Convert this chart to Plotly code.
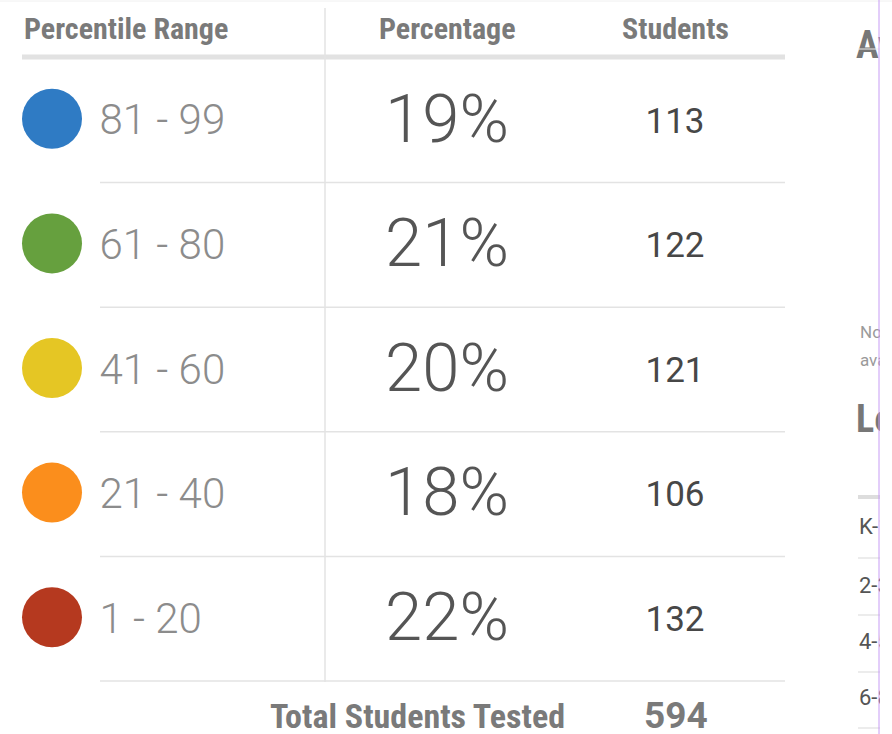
import plotly.graph_objects as go

# ---- data ----
ranges = ["81 - 99", "61 - 80", "41 - 60", "21 - 40", "1 - 20"]
percentages = [19, 21, 20, 18, 22]
students = [113, 122, 121, 106, 132]
total_students = 594
headers = ["Percentile Range", "Percentage", "Students"]
band_colors = ["#2f7bc4", "#66a03e", "#e5c624", "#fb8e1c", "#b5391f"]
side_rows = ["K-1", "2-3", "4-5", "6-8"]

# ---- layout constants ----
W, H = 892, 734
CLIP = 880
row_top, row_h = 58, 124.6
row_y = [row_top + row_h * (i + 0.5) - 1.5 for i in range(len(ranges))]
sep_y = [row_top + row_h * (i + 1) for i in range(len(ranges))]
txt_dy = 5
cond = "Roboto Condensed, Liberation Sans Narrow, DejaVu Sans Condensed, Roboto"

fig = go.Figure()

# circles
fig.add_trace(go.Scatter(
    x=[52] * len(ranges), y=row_y, mode="markers",
    marker=dict(size=60, color=band_colors, line=dict(width=0)),
    hoverinfo="skip", cliponaxis=False))
# range labels
fig.add_trace(go.Scatter(
    x=[99.5] * len(ranges), y=[y + txt_dy for y in row_y], mode="text", text=ranges,
    textposition="middle right",
    textfont=dict(family="Roboto", size=42, color="#8c8c8c", weight=300),
    hoverinfo="skip", cliponaxis=False))
# percentages
fig.add_trace(go.Scatter(
    x=[447] * len(ranges), y=[y + txt_dy + 1 for y in row_y], mode="text",
    text=[f"{p}%" for p in percentages], textposition="middle center",
    textfont=dict(family="Roboto", size=67, color="#555555", weight=300),
    hoverinfo="skip", cliponaxis=False))
# students
fig.add_trace(go.Scatter(
    x=[675] * len(ranges), y=[y + txt_dy for y in row_y], mode="text",
    text=[str(s) for s in students], textposition="middle center",
    textfont=dict(family="Roboto", size=35, color="#474747", weight=400),
    hoverinfo="skip", cliponaxis=False))

# right-side clipped panel text
fig.add_trace(go.Scatter(
    x=[856], y=[48], mode="text", text=["Average"], textposition="middle right",
    textfont=dict(family=cond, size=38, color="#777777", weight=700),
    hoverinfo="skip", cliponaxis=True))
fig.add_trace(go.Scatter(
    x=[860, 860], y=[334, 362], mode="text", text=["No data", "available"],
    textposition="middle right",
    textfont=dict(family="Roboto", size=17, color="#9a9a9a"),
    hoverinfo="skip", cliponaxis=True))
fig.add_trace(go.Scatter(
    x=[856], y=[422], mode="text", text=["Lexile"], textposition="middle right",
    textfont=dict(family=cond, size=38, color="#777777", weight=700),
    hoverinfo="skip", cliponaxis=True))
fig.add_trace(go.Scatter(
    x=[859] * len(side_rows), y=[528, 587, 643, 699], mode="text",
    text=side_rows, textposition="middle right",
    textfont=dict(family="Roboto", size=22, color="#555555"),
    hoverinfo="skip", cliponaxis=True))

shapes = []
line_c = "#e3e3e3"
# top faint line
shapes.append(dict(type="line", xref="paper", yref="y", x0=0, x1=1, y0=1, y1=1,
                   line=dict(color="#f0f0f0", width=1)))
# header underline
shapes.append(dict(type="line", x0=22, x1=785, y0=57, y1=57,
                   line=dict(color="#e2e2e2", width=5)))
# vertical divider
shapes.append(dict(type="line", x0=325, x1=325, y0=8, y1=682,
                   line=dict(color=line_c, width=1.5)))
# row separators
for y in sep_y:
    shapes.append(dict(type="line", x0=100, x1=785, y0=y, y1=y,
                       line=dict(color=line_c, width=1.5)))
# right panel lines
shapes.append(dict(type="line", x0=858, x1=CLIP, y0=49, y1=49,
                   line=dict(color="#eeeeee", width=1)))
shapes.append(dict(type="line", x0=858, x1=CLIP, y0=497, y1=497,
                   line=dict(color="#dddddd", width=4)))
for y in [558, 615, 672, 728]:
    shapes.append(dict(type="line", x0=858, x1=CLIP, y0=y, y1=y,
                       line=dict(color="#e6e6e6", width=1.5)))
# purple border line
shapes.append(dict(type="line", xref="paper", yref="paper", x0=879 / W, x1=879 / W,
                   y0=0, y1=1, line=dict(color="#c79cf5", width=1)))

annotations = [
    dict(x=22, y=28, text=headers[0], xanchor="left", showarrow=False,
         font=dict(family=cond, size=30, color="#7a7a7a", weight=700)),
    dict(x=447, y=28, text=headers[1], xanchor="center", showarrow=False,
         font=dict(family=cond, size=30, color="#7a7a7a", weight=700)),
    dict(x=675, y=28, text=headers[2], xanchor="center", showarrow=False,
         font=dict(family=cond, size=30, color="#7a7a7a", weight=700)),
    dict(x=567, y=716, text="Total Students Tested", xanchor="right", showarrow=False,
         font=dict(family=cond, size=34, color="#7a7a7a", weight=700)),
    dict(x=676, y=715, text=str(total_students), xanchor="center", showarrow=False,
         font=dict(family="Roboto", size=37, color="#7a7a7a", weight=700)),
]

fig.update_layout(
    width=W, height=H, margin=dict(l=0, r=0, t=0, b=0),
    paper_bgcolor="white", plot_bgcolor="white", showlegend=False,
    xaxis=dict(range=[0, CLIP], domain=[0, CLIP / W], visible=False, fixedrange=True),
    yaxis=dict(range=[H, 0], visible=False, fixedrange=True),
    shapes=shapes, annotations=annotations,
)

fig.write_html("out.html", config={"displayModeBar": False},
               post_script="document.body.style.margin='0px';document.body.style.overflow='hidden';")
